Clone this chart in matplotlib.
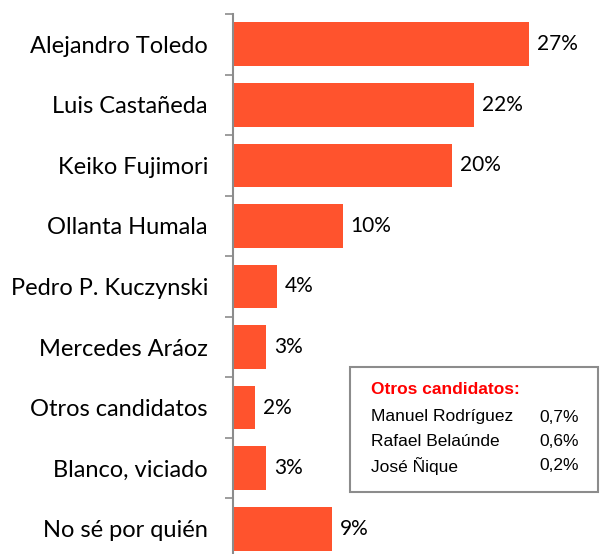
import matplotlib
matplotlib.use("Agg")
import matplotlib.pyplot as plt
from matplotlib.patches import Rectangle

categories = ["Alejandro Toledo", "Luis Castañeda", "Keiko Fujimori", "Ollanta Humala",
              "Pedro P. Kuczynski", "Mercedes Aráoz", "Otros candidatos",
              "Blanco, viciado", "No sé por quién"]
values = [27, 22, 20, 10, 4, 3, 2, 3, 9]
value_labels = ["27%", "22%", "20%", "10%", "4%", "3%", "2%", "3%", "9%"]

otros_names = ["Manuel Rodríguez", "Rafael Belaúnde", "José Ñique"]
otros_values = ["0,7%", "0,6%", "0,2%"]

W, H = 600, 554
fig = plt.figure(figsize=(W / 100, H / 100), dpi=100)
top_px, bot_px = 14, 559
left_px = 233
ax = fig.add_axes([left_px / W, 1 - bot_px / H, 1 - left_px / W, (bot_px - top_px) / H])

bar_color = "#FF532D"
y = list(range(len(categories)))
ax.barh(y, values, height=0.72, color=bar_color)
ax.set_ylim(len(categories) - 0.5, -0.5)
ax.set_xlim(0, (W - left_px) / 10.96)

for yi, v, lab in zip(y, values, value_labels):
    ax.text(v + 0.72, yi, lab, va="center", ha="left", fontsize=15, family="Lato", color="#000000")

ax.set_yticks(y)
ax.set_yticklabels(categories, fontsize=17, family="Lato")
ax.set_yticks([i - 0.5 for i in range(len(categories) + 1)], minor=True)
ax.tick_params(axis="y", which="major", length=0, pad=18)
ax.tick_params(axis="y", which="minor", length=6, width=1.2, color="#8c8c8c")
ax.set_xticks([])
for s in ["top", "right", "bottom"]:
    ax.spines[s].set_visible(False)
ax.spines["left"].set_color("#8c8c8c")
ax.spines["left"].set_linewidth(1.5)

# inset box
bx0, by0, bx1, by1 = 350, 367, 598, 492
fig.patches.append(Rectangle((bx0 / W, 1 - by1 / H), (bx1 - bx0) / W, (by1 - by0) / H,
                             transform=fig.transFigure, facecolor="white",
                             edgecolor="#8c8c8c", linewidth=1.5))
fig.text(371 / W, 1 - 390 / H, "Otros candidatos:", color="#FF0000", fontweight="bold",
         fontsize=12.5, family="Liberation Sans", va="center", ha="left")
for i, (n, v) in enumerate(zip(otros_names, otros_values)):
    yy = 1 - (417 + i * 24.5) / H
    fig.text(371 / W, yy, n, fontsize=12.5, family="Liberation Sans", va="center", ha="left")
    fig.text(579 / W, yy, v, fontsize=12.5, family="Liberation Sans", va="center", ha="right")

fig.savefig("out.png", dpi=100)
